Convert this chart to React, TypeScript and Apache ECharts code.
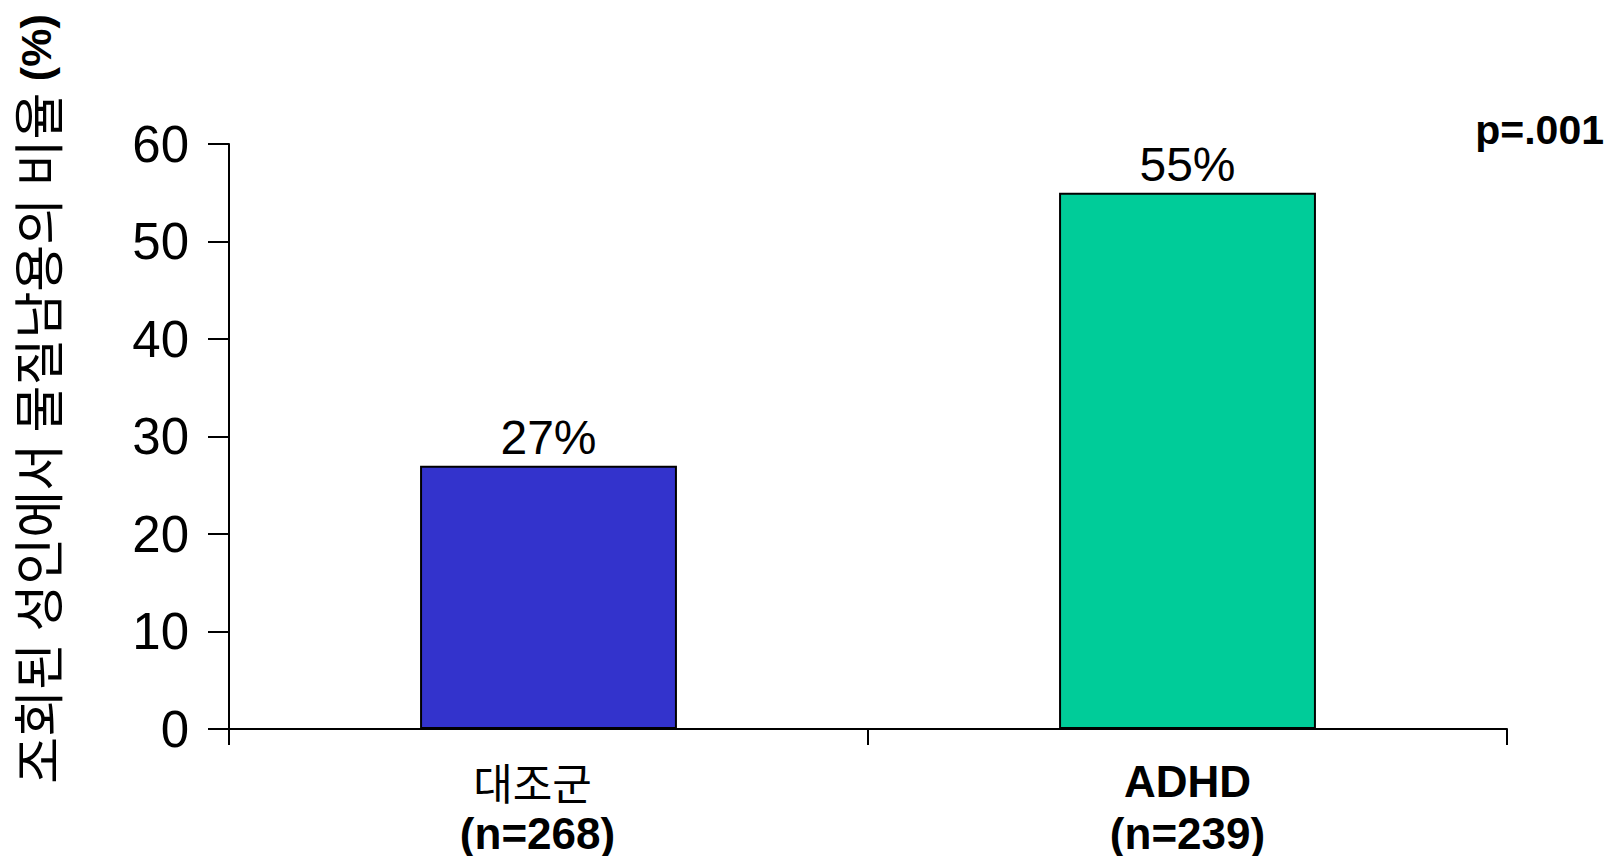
import React, { useEffect, useRef } from "react";
import * as echarts from "echarts";

// Share of adults (%) with substance abuse, by group
const groups = ["대조군", "ADHD"];
const sampleSizes = ["n=268", "n=239"];
const percentages = [27, 55];
const barColors = ["#3333CC", "#00CC99"];
const yTicks = { min: 0, max: 60, interval: 10 };
const yAxisTitle = "조회된 성인에서 물질남용의 비율 ";
const yAxisUnit = "(%)";
const pValueText = "p=.001";

const LATIN = '"Liberation Sans", Arial, sans-serif';
const KOREAN = '"Noto Sans CJK KR", sans-serif';

export default function App() {
  const ref = useRef<HTMLDivElement>(null);

  useEffect(() => {
    if (!ref.current) return;
    const chart = echarts.init(ref.current, null, { renderer: "svg" });

    const base = { lineHeight: 52, color: "#000" };
    const koStyle = { ...base, fontFamily: KOREAN, fontSize: 43, fontWeight: "normal" };
    const enStyle = { ...base, fontFamily: LATIN, fontSize: 44, fontWeight: "bold" };

    chart.setOption({
      animation: false,
      backgroundColor: "#ffffff",
      grid: { left: 229, right: 108, top: 144, bottom: 127, containLabel: false },
      xAxis: {
        type: "category",
        data: groups,
        axisLine: { lineStyle: { color: "#000", width: 2 } },
        axisTick: { show: true, length: 16, lineStyle: { color: "#000", width: 2 } },
        axisLabel: {
          margin: 26,
          color: "#000",
          formatter: (value: string, index: number) => {
            const latin = /[A-Za-z]/.test(value);
            // the Korean-labelled group sits slightly left of its slot
            const head = latin ? "en" : "koL";
            const tail = latin ? "n" : "nL";
            return `{${head}|${value}}\n{${tail}|(${sampleSizes[index]})}`;
          },
          rich: {
            en: enStyle,
            n: enStyle,
            koL: { ...koStyle, padding: [0, 32, 0, 0] },
            nL: { ...enStyle, padding: [0, 22, 0, 0] },
          },
        },
      },
      yAxis: {
        type: "value",
        min: yTicks.min,
        max: yTicks.max,
        interval: yTicks.interval,
        splitLine: { show: false },
        axisLine: { show: true, lineStyle: { color: "#000", width: 2 } },
        axisTick: { show: true, length: 21, lineStyle: { color: "#000", width: 2 } },
        axisLabel: {
          margin: 40,
          color: "#000",
          fontFamily: LATIN,
          fontSize: 51,
        },
      },
      series: [
        {
          type: "bar",
          barWidth: "40.2%",
          data: percentages.map((v, i) => ({
            value: v,
            itemStyle: { color: barColors[i], borderColor: "#000", borderWidth: 2 },
          })),
          label: {
            show: true,
            position: "top",
            distance: 4,
            color: "#000",
            fontFamily: LATIN,
            fontSize: 48,
            formatter: (p: any) => `${p.value}%`,
          },
        },
      ],
      graphic: [
        {
          type: "text",
          x: 36,
          y: 399,
          rotation: Math.PI / 2,
          style: {
            text: `{t|${yAxisTitle}}{u|${yAxisUnit}}`,
            align: "center",
            verticalAlign: "middle",
            rich: {
              t: { fontFamily: KOREAN, fontSize: 51, fill: "#000" },
              u: { fontFamily: LATIN, fontSize: 43, fontWeight: "bold", fill: "#000" },
            },
          },
        },
        {
          type: "text",
          x: 1604,
          y: 130,
          style: {
            text: pValueText,
            align: "right",
            verticalAlign: "middle",
            fontFamily: LATIN,
            fontSize: 41,
            fontWeight: "bold",
            fill: "#000",
          },
        },
      ],
    });

    return () => chart.dispose();
  }, []);

  return (
    <div
      ref={ref}
      style={{ position: "fixed", left: 0, top: 0, width: "1615px", height: "856px" }}
    />
  );
}
